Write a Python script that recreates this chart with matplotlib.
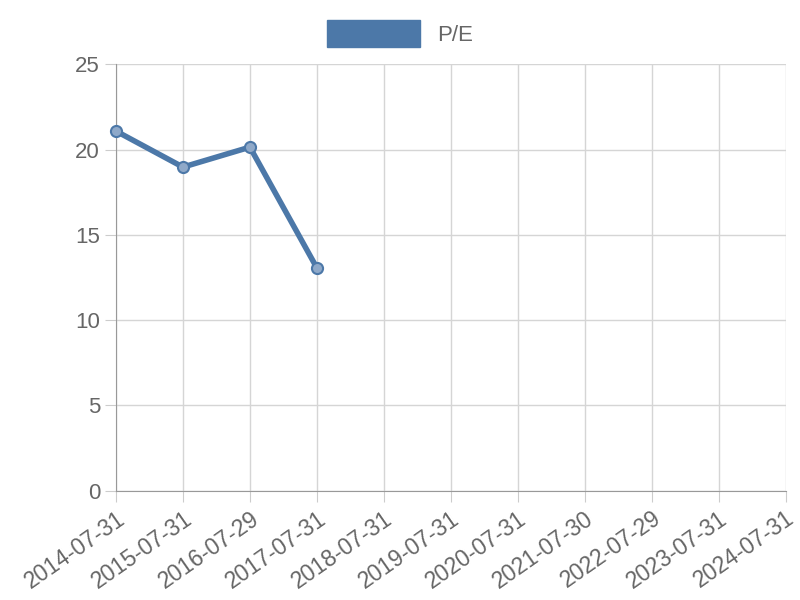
import matplotlib
matplotlib.use("Agg")
import matplotlib.pyplot as plt

dates = ['2014-07-31', '2015-07-31', '2016-07-29', '2017-07-31', '2018-07-31',
         '2019-07-31', '2020-07-31', '2021-07-30', '2022-07-29', '2023-07-31', '2024-07-31']
pe = [21.08, 18.97, 20.14, 13.06]

plt.rcParams['font.family'] = ['Liberation Sans', 'DejaVu Sans']
fig = plt.figure(figsize=(8, 6), dpi=100)
ax = fig.add_axes([0.145, 0.182, 0.837, 0.711])

line_color = '#4c78a8'
ax.plot(range(len(pe)), pe, color=line_color, linewidth=4, marker='o', markersize=8,
        markerfacecolor='#8fa9c9', markeredgecolor=line_color, markeredgewidth=1.5,
        label='P/E', zorder=3, clip_on=False)

ax.set_xlim(0, len(dates) - 1)
ax.set_ylim(0, 25)
ax.set_xticks(range(len(dates)))
ax.set_xticklabels(dates, rotation=35, ha='right', rotation_mode='anchor')
ax.set_yticks(range(0, 26, 5))
ax.grid(True, color='#d5d5d5', linewidth=1)
ax.tick_params(colors='#666666', labelsize=16, length=8, color='#cccccc')
for lbl in ax.get_xticklabels():
    lbl.set_fontsize(16.5)
for s in ['top', 'right']:
    ax.spines[s].set_visible(False)
for s in ['left', 'bottom']:
    ax.spines[s].set_color('#999999')

handle = plt.Rectangle((0, 0), 1, 1, color=line_color)
fig.legend([handle], ['P/E'], loc='upper center', bbox_to_anchor=(0.5, 1.0),
           frameon=False, fontsize=16, labelcolor='#666666',
           handlelength=4.2, handleheight=1.5)

fig.savefig('out.png')
